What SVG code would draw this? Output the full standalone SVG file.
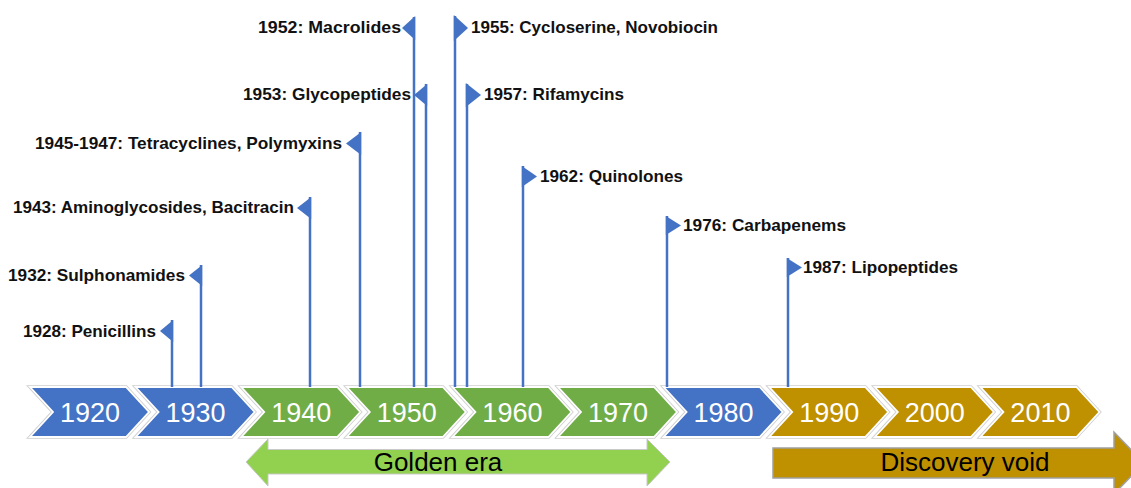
<svg xmlns="http://www.w3.org/2000/svg" width="1131" height="488" viewBox="0 0 1131 488">
<defs>
<style>
.chev-o{stroke:#CFCFCF;stroke-width:3.5;stroke-linejoin:miter}
.chev-i{stroke:#FFFFFF;stroke-width:1.8;stroke-linejoin:miter}
.blue{fill:#4472C4}
.green{fill:#70AD47}
.gold{fill:#BF9000}
.yr{font-family:"Liberation Sans",Arial,sans-serif;font-size:27px;fill:#FFFFFF;text-anchor:middle}
.lbl{font-family:"Liberation Sans",Arial,sans-serif;font-size:17px;font-weight:bold;fill:#111111}
.stem{stroke:#4472C4;stroke-width:2.5;fill:none}
.flag{fill:#4472C4}
.era{font-family:"Liberation Sans",Arial,sans-serif;font-size:26px;fill:#000000;text-anchor:middle}
</style>
<polygon id="chevShape" points="0,387 96,387 119,412 96,437 0,437 23,412"/>
</defs>

<g id="timeline">
<g id="y1920"><use href="#chevShape" x="30" class="blue chev-o"/><use href="#chevShape" x="30" class="blue chev-i"/><text class="yr" x="90" y="422">1920</text></g>
<g id="y1930"><use href="#chevShape" x="135.6" class="blue chev-o"/><use href="#chevShape" x="135.6" class="blue chev-i"/><text class="yr" x="195.6" y="422">1930</text></g>
<g id="y1940"><use href="#chevShape" x="241.2" class="green chev-o"/><use href="#chevShape" x="241.2" class="green chev-i"/><text class="yr" x="301.2" y="422">1940</text></g>
<g id="y1950"><use href="#chevShape" x="346.8" class="green chev-o"/><use href="#chevShape" x="346.8" class="green chev-i"/><text class="yr" x="406.8" y="422">1950</text></g>
<g id="y1960"><use href="#chevShape" x="452.4" class="green chev-o"/><use href="#chevShape" x="452.4" class="green chev-i"/><text class="yr" x="512.4" y="422">1960</text></g>
<g id="y1970"><use href="#chevShape" x="558" class="green chev-o"/><use href="#chevShape" x="558" class="green chev-i"/><text class="yr" x="618" y="422">1970</text></g>
<g id="y1980"><use href="#chevShape" x="663.6" class="blue chev-o"/><use href="#chevShape" x="663.6" class="blue chev-i"/><text class="yr" x="723.6" y="422">1980</text></g>
<g id="y1990"><use href="#chevShape" x="769.2" class="gold chev-o"/><use href="#chevShape" x="769.2" class="gold chev-i"/><text class="yr" x="829.2" y="422">1990</text></g>
<g id="y2000"><use href="#chevShape" x="874.8" class="gold chev-o"/><use href="#chevShape" x="874.8" class="gold chev-i"/><text class="yr" x="934.8" y="422">2000</text></g>
<g id="y2010"><use href="#chevShape" x="980.4" class="gold chev-o"/><use href="#chevShape" x="980.4" class="gold chev-i"/><text class="yr" x="1040.4" y="422">2010</text></g>
</g>

<g id="golden-era">
<polygon points="246,462 268,439 268,449.5 647,449.5 647,439 670,462 647,486 647,474 268,474 268,486" fill="#92D050" stroke="#C9C9C9" stroke-width="1"/>
<text class="era" x="438" y="471">Golden era</text>
</g>

<g id="discovery-void">
<polygon points="773,448 1114,448 1114,432 1144,463 1114,494 1114,478 773,478" fill="#BF9000" stroke="#A0A0A0" stroke-width="1.5"/>
<text class="era" x="965" y="471">Discovery void</text>
</g>

<g id="connectors">
<line class="stem" x1="172" y1="320" x2="172" y2="387"/>
<line class="stem" x1="201" y1="265" x2="201" y2="387"/>
<line class="stem" x1="310" y1="197" x2="310" y2="387"/>
<line class="stem" x1="360" y1="132" x2="360" y2="387"/>
<line class="stem" x1="414" y1="17" x2="414" y2="387"/>
<line class="stem" x1="426" y1="84" x2="426" y2="387"/>
<line class="stem" x1="455" y1="16" x2="455" y2="387"/>
<line class="stem" x1="467" y1="84" x2="467" y2="387"/>
<line class="stem" x1="523" y1="166" x2="523" y2="387"/>
<line class="stem" x1="667" y1="216" x2="667" y2="387"/>
<line class="stem" x1="788" y1="258" x2="788" y2="387"/>
</g>

<g id="f1928"><polygon class="flag" points="173.2,320 160,331 173.2,342"/><text class="lbl" x="156" y="337" text-anchor="end" textLength="133" lengthAdjust="spacingAndGlyphs">1928: Penicillins</text></g>
<g id="f1932"><polygon class="flag" points="202.2,265 189,275.5 202.2,286"/><text class="lbl" x="185" y="281" text-anchor="end" textLength="177" lengthAdjust="spacingAndGlyphs">1932: Sulphonamides</text></g>
<g id="f1943"><polygon class="flag" points="311.2,197 297,208 311.2,219"/><text class="lbl" x="294" y="213" text-anchor="end" textLength="281" lengthAdjust="spacingAndGlyphs">1943: Aminoglycosides,  Bacitracin</text></g>
<g id="f1945"><polygon class="flag" points="361.2,132 346,143.5 361.2,155"/><text class="lbl" x="342" y="149" text-anchor="end" textLength="307" lengthAdjust="spacingAndGlyphs">1945-1947: Tetracyclines, Polymyxins</text></g>
<g id="f1952"><polygon class="flag" points="415.2,16 402,28 415.2,40"/><text class="lbl" x="401" y="33" text-anchor="end" textLength="143" lengthAdjust="spacingAndGlyphs">1952: Macrolides</text></g>
<g id="f1953"><polygon class="flag" points="427.2,84 414,95 427.2,106"/><text class="lbl" x="411" y="100" text-anchor="end" textLength="168" lengthAdjust="spacingAndGlyphs">1953: Glycopeptides</text></g>
<g id="f1955"><polygon class="flag" points="453.8,15 468,28 453.8,41"/><text class="lbl" x="471" y="33" textLength="247" lengthAdjust="spacingAndGlyphs">1955: Cycloserine, Novobiocin</text></g>
<g id="f1957"><polygon class="flag" points="465.8,83 481,95 465.8,107"/><text class="lbl" x="484" y="100" textLength="140" lengthAdjust="spacingAndGlyphs">1957: Rifamycins</text></g>
<g id="f1962"><polygon class="flag" points="521.8,166 537,176.5 521.8,187"/><text class="lbl" x="540" y="182" textLength="143" lengthAdjust="spacingAndGlyphs">1962: Quinolones</text></g>
<g id="f1976"><polygon class="flag" points="665.8,216 681,225.5 665.8,235"/><text class="lbl" x="683" y="231" textLength="163" lengthAdjust="spacingAndGlyphs">1976: Carbapenems</text></g>
<g id="f1987"><polygon class="flag" points="786.8,258 802,267.5 786.8,277"/><text class="lbl" x="803" y="273" textLength="155" lengthAdjust="spacingAndGlyphs">1987: Lipopeptides</text></g>
</svg>
